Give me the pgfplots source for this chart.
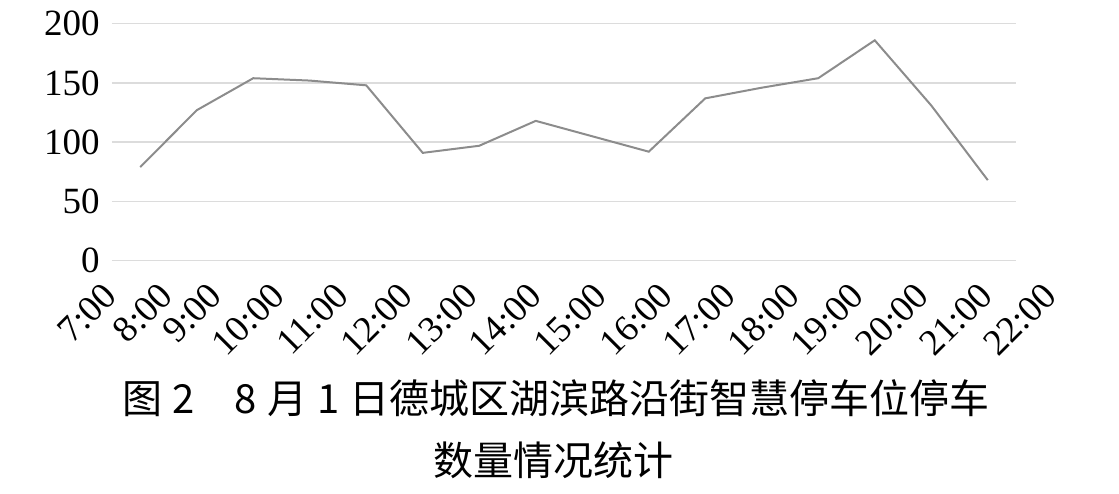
\documentclass[border=0pt]{standalone}
\usepackage{fontspec}
\setmainfont{Liberation Serif}
\newfontfamily\cjk{Noto Sans CJK SC}
\usepackage{pgfplots}
\pgfplotsset{compat=1.18}

\definecolor{linegray}{RGB}{140,140,140}
\definecolor{gridgray}{RGB}{220,220,220}

\begin{document}
\begin{tikzpicture}
% page frame: 1px = 0.5pt, axis origin at pixel (112,261)
\path[use as bounding box] (-56pt,-116.15pt) rectangle (503.5pt,130.35pt);
\begin{axis}[
    at={(0,0)}, anchor=south west,
    scale only axis, width=452pt, height=118.5pt,
    xmin=0, xmax=16, ymin=0, ymax=200,
    axis line style={draw=none},
    xtick=\empty,
    ytick={0,50,100,150,200},
    ymajorgrids,
    grid style={line width=0.75pt, gridgray},
    major tick length=0pt,
    tick label style={font=\fontsize{18.5}{20}\selectfont},
    yticklabel style={inner sep=0pt, xshift=-6pt},
    /pgf/number format/assume math mode=true,
    clip=false,
]
\addplot[linegray, line width=1pt, mark=none] coordinates {
    (0.5,79) (1.5,127) (2.5,154) (3.5,152) (4.5,148) (5.5,91)
    (6.5,97) (7.5,118) (8.5,105) (9.5,92) (10.5,137) (11.5,146)
    (12.5,154) (13.5,186) (14.5,131) (15.5,68)
};
\tikzset{tl/.style={xshift=-4pt, yshift=-9.8pt, anchor=north east, rotate=45,
    inner sep=0pt, font=\fontsize{18.5}{20}\selectfont}}
\node[tl] at (axis cs:-0.05,0) {7:00};
\node[tl] at (axis cs:0.94,0) {8:00};
\node[tl] at (axis cs:1.81,0) {9:00};
\node[tl] at (axis cs:2.92,0) {10:00};
\node[tl] at (axis cs:4.05,0) {11:00};
\node[tl] at (axis cs:5.19,0) {12:00};
\node[tl] at (axis cs:6.34,0) {13:00};
\node[tl] at (axis cs:7.47,0) {14:00};
\node[tl] at (axis cs:8.62,0) {15:00};
\node[tl] at (axis cs:9.79,0) {16:00};
\node[tl] at (axis cs:10.90,0) {17:00};
\node[tl] at (axis cs:12.04,0) {18:00};
\node[tl] at (axis cs:13.17,0) {19:00};
\node[tl] at (axis cs:14.32,0) {20:00};
\node[tl] at (axis cs:15.45,0) {21:00};
\node[tl] at (axis cs:16.58,0) {22:00};
\end{axis}
\node[font=\cjk\fontsize{20}{24}\selectfont, inner sep=0pt] at (222pt,-68.6pt)
    {图\hspace{0.25em}2\hspace{1em}8\hspace{0.25em}月\hspace{0.25em}1\hspace{0.25em}日德城区湖滨路沿街智慧停车位停车};
\node[font=\cjk\fontsize{20}{24}\selectfont, inner sep=0pt] at (220.5pt,-99.6pt)
    {数量情况统计};
\end{tikzpicture}
\end{document}
